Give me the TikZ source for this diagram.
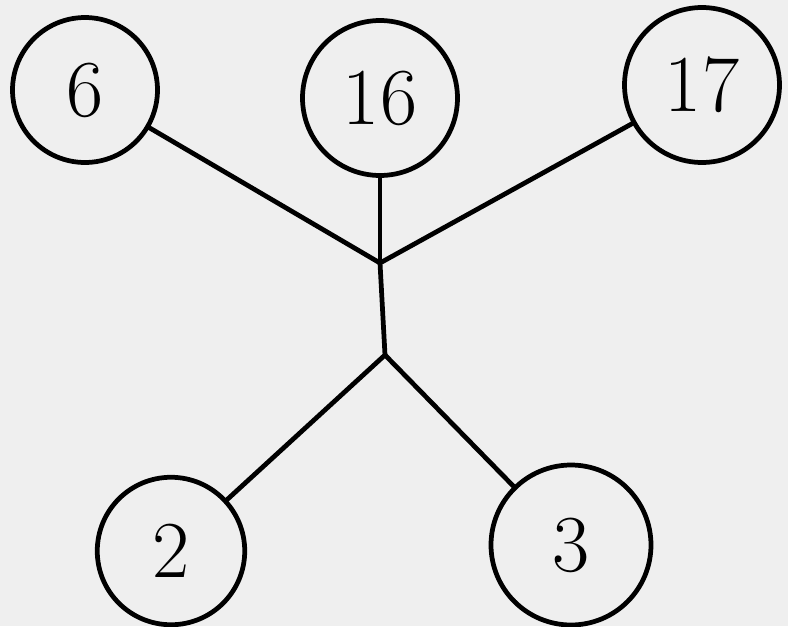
\documentclass[tikz,border=0pt]{standalone}
\usepackage{tikz}
\usetikzlibrary{calc}
\definecolor{paper}{HTML}{EFEFEF}
\definecolor{ink}{HTML}{000000}
\tikzset{
  edge/.style={draw=ink, line width=2.7pt, line cap=round},
  nd/.style={circle, draw=ink, line width=2.7pt, inner sep=0pt, text=ink, font=\fontsize{46}{50}\selectfont},
  jn/.style={coordinate}
}

\begin{document}
\begin{tikzpicture}[x=0.02cm, y=-0.02cm]
  \fill[paper] (0,0) rectangle (788,626);
  \useasboundingbox (0,0) rectangle (788,626);

  \node[nd, minimum size=2.9cm] (six) at (85,90) {6};
  \node[nd, minimum size=3.1cm] (sixteen) at (380,98) {16};
  \node[nd, minimum size=3.1cm] (seventeen) at (702,85) {17};
  \node[nd, minimum size=2.95cm] (two) at (171,551) {2};
  \node[nd, minimum size=3.2cm] (three) at (571,545) {3};

  \coordinate (j1) at (380,263);
  \coordinate (j2) at (385,355);

  \draw[edge] (six) -- (j1);
  \draw[edge] (sixteen) -- (j1);
  \draw[edge] (seventeen) -- (j1);
  \draw[edge] (j1) -- (j2);
  \draw[edge] (j2) -- (two);
  \draw[edge] (j2) -- (three);
\end{tikzpicture}
\end{document}
